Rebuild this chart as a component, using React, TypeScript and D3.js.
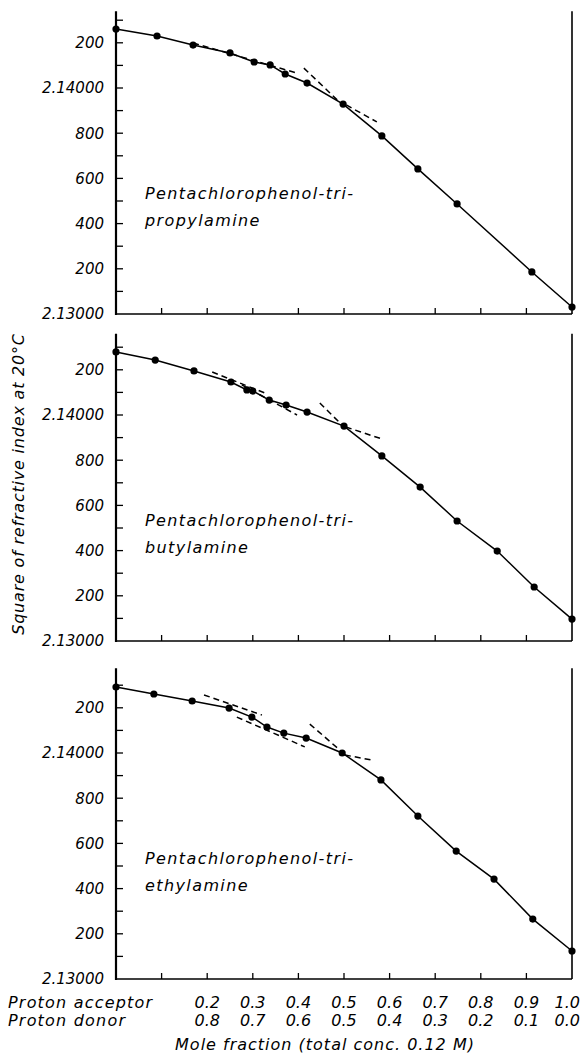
import React from "react";
import * as d3 from "d3";

// mole fraction of proton acceptor (x) and n^2 values (y)
const propylX = [0, 0.09, 0.169, 0.25, 0.303, 0.338, 0.371, 0.419, 0.498, 0.583, 0.662, 0.748, 0.912, 1.0];
const propylY = [2.14261, 2.1423, 2.1419, 2.14155, 2.14115, 2.14102, 2.14062, 2.14022, 2.13929, 2.13788, 2.13642, 2.13487, 2.13186, 2.13031];

const butylX = [0, 0.086, 0.171, 0.252, 0.287, 0.3, 0.336, 0.373, 0.419, 0.5, 0.583, 0.667, 0.748, 0.836, 0.917, 1.0];
const butylY = [2.14279, 2.14243, 2.14195, 2.14146, 2.14111, 2.14106, 2.14066, 2.14044, 2.14013, 2.13951, 2.13819, 2.13681, 2.13531, 2.13398, 2.13239, 2.13097];

const ethylX = [0, 0.083, 0.167, 0.248, 0.298, 0.331, 0.368, 0.417, 0.496, 0.581, 0.662, 0.746, 0.829, 0.914, 1.0];
const ethylY = [2.14292, 2.14261, 2.1423, 2.14199, 2.14159, 2.14115, 2.14088, 2.14066, 2.14, 2.13881, 2.13721, 2.13566, 2.13442, 2.13265, 2.13124];

// dashed extrapolation lines: [x1, y1, x2, y2]
const propylDashes = [
  [0.169, 2.14199, 0.397, 2.14066],
  [0.412, 2.14088, 0.489, 2.1394],
  [0.505, 2.13925, 0.572, 2.1385],
];
const butylDashes = [
  [0.211, 2.1419, 0.327, 2.14097],
  [0.276, 2.14133, 0.397, 2.14],
  [0.447, 2.14053, 0.498, 2.13951],
  [0.504, 2.13947, 0.583, 2.13894],
];
const ethylDashes = [
  [0.193, 2.14257, 0.32, 2.14168],
  [0.265, 2.14159, 0.414, 2.14027],
  [0.425, 2.14128, 0.496, 2.14004],
  [0.502, 2.13991, 0.561, 2.13969],
];

const nameLines = [
  ["Pentachlorophenol-tri-", "propylamine"],
  ["Pentachlorophenol-tri-", "butylamine"],
  ["Pentachlorophenol-tri-", "ethylamine"],
];

const yTickValues = [2.13, 2.132, 2.134, 2.136, 2.138, 2.14, 2.142];
const yTickLabels = ["2.13000", "200", "400", "600", "800", "2.14000", "200"];
const xTickValues = [0.1, 0.2, 0.3, 0.4, 0.5, 0.6, 0.7, 0.8, 0.9];
const labelValues = [0.2, 0.3, 0.4, 0.5, 0.6, 0.7, 0.8, 0.9, 1.0];
const acceptorLabels = ["0.2", "0.3", "0.4", "0.5", "0.6", "0.7", "0.8", "0.9", "1.0"];
const donorLabels = ["0.8", "0.7", "0.6", "0.5", "0.4", "0.3", "0.2", "0.1", "0.0"];

const font = "'DejaVu Sans', sans-serif";

const x = d3.scaleLinear().domain([0, 1]).range([116, 572]);
const pxPerUnit = 22600; // pixels per 1.0 of n^2

const Panel = ({ xs, ys, dashes, names, baseline, topVal }) => {
  const y = d3
    .scaleLinear()
    .domain([2.13, 2.14])
    .range([baseline, baseline - 0.01 * pxPerUnit]);
  const pts = xs.map((d, i) => [x(d), y(ys[i])]);
  const line = d3.line();
  const minor = d3.range(2.131, topVal - 0.0002, 0.001);

  return (
    <g>
      {/* left axis */}
      <line x1={116} x2={116} y1={y(topVal)} y2={baseline + 1} stroke="#000" strokeWidth={2.2} />
      {minor.map((t, i) => (
        <line key={i} x1={116} x2={123} y1={y(t)} y2={y(t)} stroke="#000" strokeWidth={1.3} />
      ))}
      {yTickValues.map((t, i) => (
        <text
          key={i}
          x={104}
          y={y(t)}
          dy="0.36em"
          textAnchor="end"
          fontFamily={font}
          fontStyle="italic"
          fontSize={15}
        >
          {yTickLabels[i]}
        </text>
      ))}
      {/* right frame line */}
      <line x1={572} x2={572} y1={y(topVal)} y2={baseline} stroke="#000" strokeWidth={1.6} />
      {/* bottom axis */}
      <line x1={116} x2={572} y1={baseline} y2={baseline} stroke="#000" strokeWidth={1.6} />
      {xTickValues.map((t, i) => (
        <line key={i} x1={x(t)} x2={x(t)} y1={baseline} y2={baseline - 6} stroke="#000" strokeWidth={1.3} />
      ))}
      {/* dashed extrapolations */}
      {dashes.map((d, i) => (
        <line
          key={i}
          x1={x(d[0])}
          y1={y(d[1])}
          x2={x(d[2])}
          y2={y(d[3])}
          stroke="#000"
          strokeWidth={1.5}
          strokeDasharray="6,4"
        />
      ))}
      <path d={line(pts)} fill="none" stroke="#000" strokeWidth={1.5} />
      {pts.map((p, i) => (
        <circle key={i} cx={p[0]} cy={p[1]} r={3.6} fill="#000" />
      ))}
      {names.map((s, i) => (
        <text
          key={i}
          x={145}
          y={baseline - 121 + i * 27}
          dy="0.36em"
          fontFamily={font}
          fontStyle="italic"
          fontSize={16}
          letterSpacing={1.4}
        >
          {s}
        </text>
      ))}
    </g>
  );
};

export default function App() {
  const bottom = 979;
  const last = labelValues.length - 1;
  return (
    <svg
      width={582}
      height={1058}
      style={{ position: "absolute", left: 0, top: 0, background: "#fff" }}
    >
      <Panel xs={propylX} ys={propylY} dashes={propylDashes} names={nameLines[0]} baseline={314} topVal={2.1434} />
      <Panel xs={butylX} ys={butylY} dashes={butylDashes} names={nameLines[1]} baseline={641} topVal={2.1436} />
      <Panel xs={ethylX} ys={ethylY} dashes={ethylDashes} names={nameLines[2]} baseline={bottom} topVal={2.14375} />

      {/* y axis title */}
      <text
        transform="translate(24,484) rotate(-90)"
        textAnchor="middle"
        fontFamily={font}
        fontStyle="italic"
        fontSize={16}
        letterSpacing={0.8}
      >
        Square of refractive index at 20°C
      </text>

      {/* x tick label rows */}
      <text x={8} y={1002} dy="0.36em" fontFamily={font} fontStyle="italic" fontSize={16} letterSpacing={1.2}>
        Proton acceptor
      </text>
      <text x={8} y={1020} dy="0.36em" fontFamily={font} fontStyle="italic" fontSize={16} letterSpacing={1.2}>
        Proton donor
      </text>
      {labelValues.map((v, i) => {
        const edge = i === last;
        const lx = edge ? 580 : x(v);
        const anchor = edge ? "end" : "middle";
        return (
          <g key={i}>
            <text x={lx} y={1002} dy="0.36em" textAnchor={anchor} fontFamily={font} fontStyle="italic" fontSize={16}>
              {acceptorLabels[i]}
            </text>
            <text x={lx} y={1020} dy="0.36em" textAnchor={anchor} fontFamily={font} fontStyle="italic" fontSize={16}>
              {donorLabels[i]}
            </text>
          </g>
        );
      })}
      <text
        x={325}
        y={1044}
        dy="0.36em"
        textAnchor="middle"
        fontFamily={font}
        fontStyle="italic"
        fontSize={16}
        letterSpacing={1}
      >
        Mole fraction (total conc. 0.12 M)
      </text>
    </svg>
  );
}
